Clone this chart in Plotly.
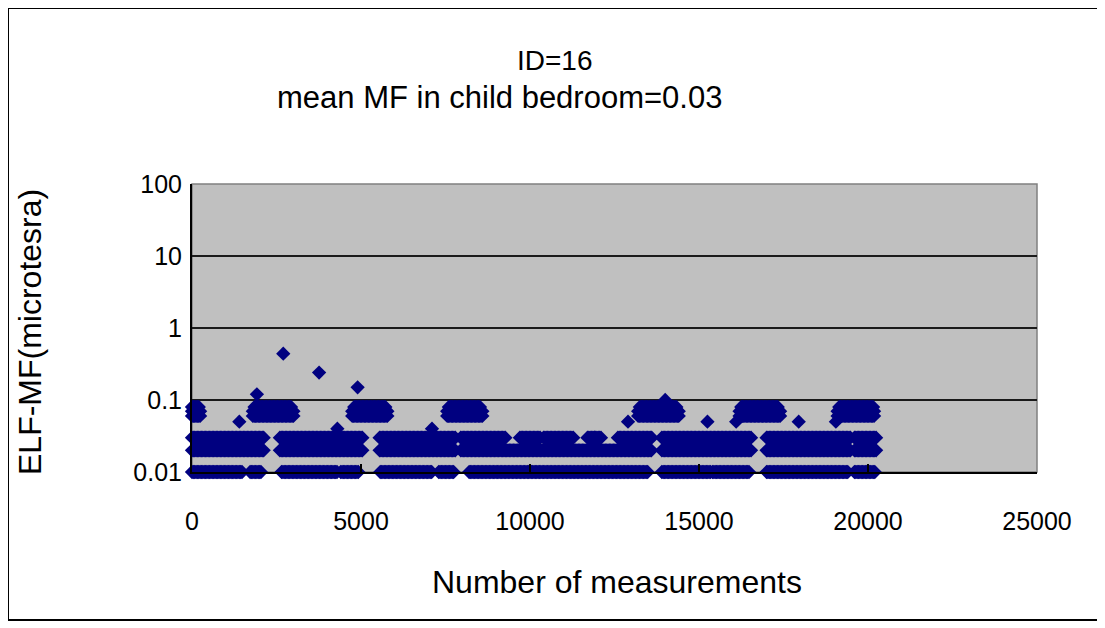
import numpy as np
import plotly.graph_objects as go

# ---- data read from the picture (measurement index ranges and field levels, microtesla) ----
# runs of readings at a constant level: start index, end index, level
run_start = [0, 1720, 2650, 4400, 5570, 7300, 8200, 13900, 15400, 17000, 19600,      # 0.01
             0, 2600, 5550, 7950, 13900, 17000, 19600,                               # 0.02
             0, 2600, 5550, 7950, 9700, 10400, 11700, 12600, 13900, 17000, 19600,    # 0.03
             0, 1800, 4740, 7550, 13200, 16200, 19100,                               # 0.06
             0, 1800, 4740, 7550, 13200, 16200, 19100,                               # 0.07
             0, 1850, 4800, 7600, 13250, 16250, 19150]                               # 0.08
run_end = [1500, 2070, 4300, 4950, 7100, 7750, 13500, 15350, 16500, 19400, 20200,
           2150, 5050, 7800, 13600, 16550, 19500, 20250,
           2150, 5050, 7800, 9300, 10300, 11300, 12100, 13600, 16550, 19500, 20250,
           250, 3000, 5800, 8600, 14400, 17400, 20200,
           250, 3000, 5800, 8600, 14400, 17400, 20200,
           200, 2950, 5750, 8550, 14350, 17350, 20150]
run_level = [0.01] * 11 + [0.02] * 7 + [0.03] * 11 + [0.06] * 7 + [0.07] * 7 + [0.08] * 7

# isolated readings
point_x = [1400, 1920, 2700, 3760, 4300, 4900, 7100, 11900, 12900, 14000, 15250, 16100, 17950, 19050]
point_y = [0.05, 0.12, 0.44, 0.24, 0.04, 0.15, 0.04, 0.03, 0.05, 0.10, 0.05, 0.05, 0.05, 0.05]

y_tick_vals = [0.01, 0.1, 1, 10, 100]
y_tick_text = ["0.01", "0.1", "1", "10", "100"]
x_tick_vals = [0, 5000, 10000, 15000, 20000, 25000]
x_tick_text = ["0", "5000", "10000", "15000", "20000", "25000"]

# expand the runs into individual measurements (one marker every 40 measurements)
xs, ys = [], []
for s, e, v in zip(run_start, run_end, run_level):
    idx = np.arange(s, e + 1, 40)
    xs.extend(idx.tolist())
    ys.extend([v] * len(idx))
xs.extend(point_x)
ys.extend(point_y)

FONT = "Liberation Sans, Arial, sans-serif"
NAVY = "#000080"

# page geometry (the page body adds an 8 px offset around the figure)
OFF = 8
W, H = 1105 - OFF, 628 - OFF
L, R, T, B = 192 - OFF, 1037 - OFF, 184 - OFF, 472 - OFF


def px(page_x):
    return (page_x - OFF - L) / (R - L)


def py(page_y):
    return (B - (page_y - OFF)) / (B - T)


fig = go.Figure()
fig.add_trace(go.Scatter(
    x=xs, y=ys, mode="markers",
    marker=dict(symbol="diamond", size=11, color=NAVY, line=dict(width=0)),
    cliponaxis=False, showlegend=False, hoverinfo="x+y",
))

fig.update_layout(
    width=W, height=H,
    margin=dict(l=L, r=W - R, t=T, b=H - B, pad=0),
    paper_bgcolor="white", plot_bgcolor="#C0C0C0",
    font=dict(family=FONT, size=25, color="black"),
    showlegend=False,
    xaxis=dict(
        range=[0, 25000], tickvals=x_tick_vals, ticktext=x_tick_text,
        ticks="inside", ticklen=8, tickwidth=2, tickcolor="black",
        ticklabelstandoff=26,
        showgrid=False, zeroline=False,
        showline=True, linecolor="black", linewidth=2,
        tickfont=dict(size=25),
    ),
    yaxis=dict(
        type="log", range=[-2, 2],
        tickvals=y_tick_vals, ticktext=y_tick_text,
        ticks="", ticklabelstandoff=3,
        showgrid=True, gridcolor="#1a1a1a", gridwidth=2,
        zeroline=False,
        showline=True, linecolor="black", linewidth=2,
        tickfont=dict(size=25),
    ),
    shapes=[
        # plot area frame (top / right in grey)
        dict(type="rect", xref="paper", yref="paper", x0=0, x1=1, y0=0, y1=1,
             line=dict(color="#808080", width=1.5), layer="below"),
        # outer chart border
        dict(type="rect", xref="paper", yref="paper",
             x0=px(8), x1=px(1099), y0=py(8), y1=py(620),
             line=dict(color="black", width=2)),
    ],
    annotations=[
        dict(text="ID=16", xref="paper", yref="paper", x=px(555), y=py(60),
             showarrow=False, xanchor="center", yanchor="middle", font=dict(size=28)),
        dict(text="mean MF in child bedroom=0.03", xref="paper", yref="paper",
             x=px(499), y=py(97), showarrow=False, xanchor="center", yanchor="middle",
             font=dict(size=31)),
        dict(text="Number of measurements", xref="paper", yref="paper",
             x=px(617), y=py(582), showarrow=False, xanchor="center", yanchor="middle",
             font=dict(size=32)),
        dict(text="ELF-MF(microtesra)", xref="paper", yref="paper",
             x=px(30), y=py(332), showarrow=False, xanchor="center", yanchor="middle",
             textangle=-90, font=dict(size=32)),
    ],
)

fig.write_html("out.html")
